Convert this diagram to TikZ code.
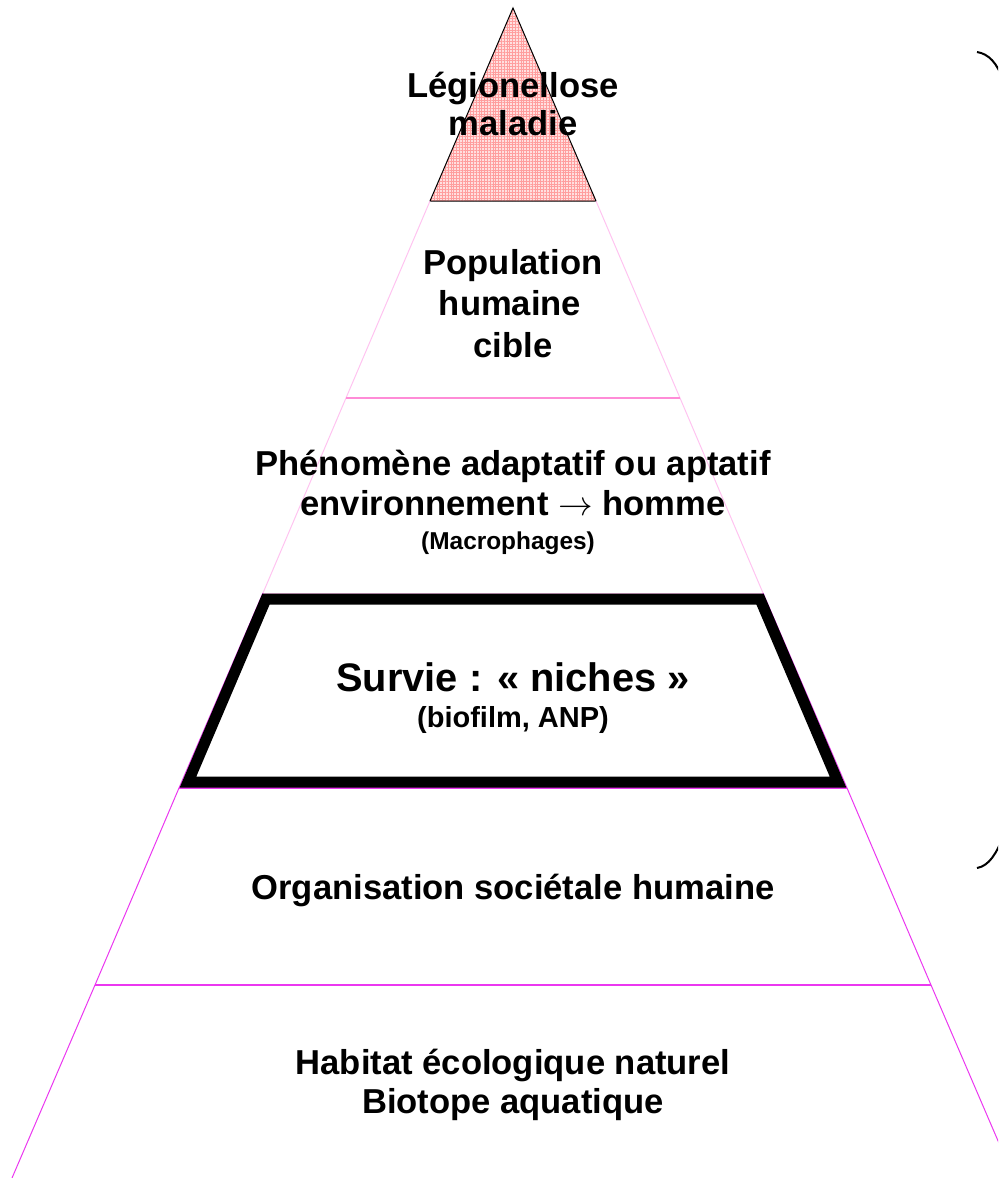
\documentclass[tikz,border=0pt]{standalone}
\usepackage{fontspec}
\setmainfont{Liberation Sans}
\usetikzlibrary{patterns.meta}

\definecolor{palepink}{RGB}{255,195,240}
\definecolor{midpink}{RGB}{255,140,215}
\definecolor{pyrmagenta}{RGB}{235,55,240}

\begin{document}
\begin{tikzpicture}[x=0.5pt, y=-0.5pt,
        txt/.style={anchor=base, inner sep=0pt, font=\fontsize{17.3}{20}\selectfont\bfseries},
        smalltxt/.style={anchor=base, inner sep=0pt, font=\fontsize{12.2}{14}\selectfont\bfseries},
        edgeup/.style={palepink, line width=0.5pt},
        edgelow/.style={pyrmagenta, line width=0.5pt},
        layer/.style={pyrmagenta, line width=1pt}]
        \useasboundingbox (0,0) rectangle (998,1178);
        \clip (0,0) rectangle (998,1178);

        % corners of the pyramid
        \coordinate (apex) at (513,8);
        \coordinate (l1) at (430,201);   \coordinate (r1) at (596,201);
        \coordinate (l2) at (346,398);   \coordinate (r2) at (680,398);
        \coordinate (l3) at (263,593);   \coordinate (r3) at (763,593);
        \coordinate (l4) at (179,788);   \coordinate (r4) at (847,788);
        \coordinate (l5) at (95,985);    \coordinate (r5) at (931,985);
        \coordinate (l6) at (12,1178);   \coordinate (r6) at (1014,1178);

        % top: the disease
        \fill[red!12] (apex) -- (l1) -- (r1) -- cycle;
        \fill[pattern={Hatch[distance=1.4pt, angle=0, line width=0.3pt]}, pattern color=red!38]
            (apex) -- (l1) -- (r1) -- cycle;
        \draw[black, line width=0.5pt] (apex) -- (l1) -- (r1) -- cycle;

        % upper layers
        \draw[edgeup] (l1) -- (l2) -- (l3);
        \draw[edgeup] (r1) -- (r2) -- (r3);
        \draw[midpink, line width=0.8pt] (l2) -- (r2);
        \draw[edgeup] (l3) -- (r3);

        % lower layers
        \draw[edgelow] (l3) -- (l4) -- (l5) -- (l6);
        \draw[edgelow] (r3) -- (r4) -- (r5) -- (r6);
        \draw[layer] (l4) -- (r4);
        \draw[layer] (l5) -- (r5);

        % the niches, framed
        \draw[black, line width=5.5pt, line join=miter] (266,599) -- (760,599) -- (838,782) -- (188,782) -- cycle;

        % bracket on the right
        \draw[line width=1pt] (977,52) .. controls (989,54) and (997,63) .. (1003,80);
        \draw[line width=1pt] (1003,836) .. controls (997,853) and (989,866) .. (977,868);

        % texts
        \node[txt] (leg1) at (513,97) {Légionellose};
        \node[txt] (leg2) at (513,135) {maladie};

        \node[txt] (pop1) at (513,274) {Population};
        \node[txt] (pop2) at (510,315) {humaine};
        \node[txt] (pop3) at (513,357) {cible};

        \node[txt] (phen1) at (513,475) {Phénomène adaptatif ou aptatif};
        \node[txt] (phen2) at (513,515) {environnement $\rightarrow$ homme};
        \node[smalltxt] (phen3) at (508,549) {(Macrophages)};

        \node[txt, font=\fontsize{19.9}{23}\selectfont\bfseries] (surv1) at (513,691) {Survie : « niches »};
        \node[txt, font=\fontsize{14.5}{17}\selectfont\bfseries] (surv2) at (513,727) {(biofilm, ANP)};

        \node[txt] (org) at (513,899) {Organisation sociétale humaine};

        \node[txt] (hab1) at (513,1074) {Habitat écologique naturel};
        \node[txt] (hab2) at (513,1113) {Biotope aquatique};
\end{tikzpicture}
\end{document}
